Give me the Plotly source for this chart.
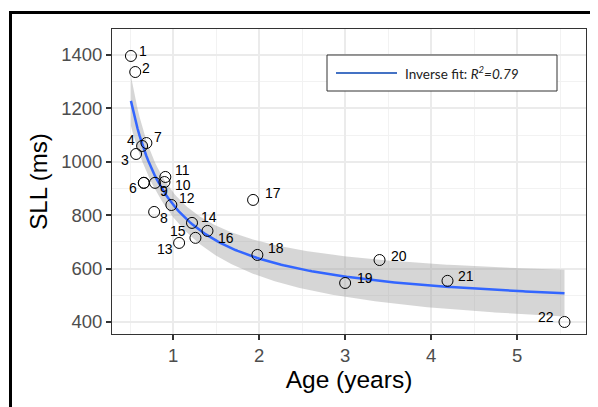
import numpy as np
import plotly.graph_objects as go

# ---- data ----
ids = ["1", "2", "3", "4", "", "6", "7", "8", "9", "10", "11",
       "12", "13", "14", "15", "16", "17", "18", "19", "20", "21", "22"]
age = [0.51, 0.56, 0.57, 0.64, 0.66, 0.66, 0.69, 0.78, 0.79, 0.90, 0.91,
       0.98, 1.07, 1.22, 1.26, 1.40, 1.93, 1.98, 3.00, 3.40, 4.19, 5.55]
sll = [1396, 1336, 1029, 1059, 921, 921, 1070, 812, 921, 924, 943,
       838, 696, 771, 715, 741, 857, 651, 546, 632, 554, 400]
# label placement (pixel offsets from each point): side, dx, dy(up)
label_side = ["r", "r", "l", "l", "r", "l", "r", "r", "r", "r", "r",
              "r", "l", "r", "l", "r", "r", "r", "r", "r", "r", "l"]
label_dx = [6, 5, -5, -5, 0, -5, 6, 4, 3, 9, 8, 6, -4, 7, -7, 9, 10, 9, 10, 9, 8, -8]
label_dy = [5, 4, -6, 6, 0, -5, 6, -6, -8, -3, 7, 7, -6, 6, 7, -7, 7, 7, 5, 4, 5, 5]
x_ticks = [1, 2, 3, 4, 5]
y_ticks = [400, 600, 800, 1000, 1200, 1400]
legend_text = "Inverse fit: <i>R<sup>2</sup>=0.79</i>"

x = np.array(age, dtype=float)
y = np.array(sll, dtype=float)

# ---- inverse fit  y = a + b/x, with 95% confidence band ----
X = np.column_stack([np.ones_like(x), 1.0 / x])
beta, *_ = np.linalg.lstsq(X, y, rcond=None)
resid = y - X @ beta
n, p = X.shape
s2 = resid @ resid / (n - p)
XtX_inv = np.linalg.inv(X.T @ X)
xs = np.linspace(x.min(), x.max(), 200)
Xs = np.column_stack([np.ones_like(xs), 1.0 / xs])
ys = Xs @ beta
se = np.sqrt(s2 * np.einsum("ij,jk,ik->i", Xs, XtX_inv, Xs))
t = 2.086
lo, hi = ys - t * se, ys + t * se

fig = go.Figure()
fig.add_trace(go.Scatter(x=np.concatenate([xs, xs[::-1]]), y=np.concatenate([hi, lo[::-1]]),
                         fill="toself", fillcolor="rgba(153,153,153,0.4)",
                         line=dict(width=0), hoverinfo="skip", showlegend=False))
fig.add_trace(go.Scatter(x=xs, y=ys, mode="lines", line=dict(color="#3366FF", width=2.5),
                         showlegend=False))
fig.add_trace(go.Scatter(x=age, y=sll, mode="markers",
                         marker=dict(symbol="circle-open", size=11, color="black",
                                     line=dict(width=1, color="black")),
                         showlegend=False))

annotations = []
for xi, yi, txt, side, dx, dy in zip(age, sll, ids, label_side, label_dx, label_dy):
    if not txt:
        continue
    annotations.append(dict(x=xi, y=yi, xref="x", yref="y", text=txt, showarrow=False,
                            xanchor="left" if side == "r" else "right", yanchor="middle",
                            xshift=dx, yshift=dy,
                            font=dict(family="Liberation Sans, Arial", size=14, color="black")))

axis_common = dict(
    showline=True, linecolor="#333333", linewidth=1, mirror=True,
    ticks="outside", ticklen=5, tickcolor="#333333", tickwidth=1.5,
    showgrid=True, gridcolor="#EBEBEB", gridwidth=1.5, zeroline=False, automargin=False,
    tickfont=dict(family="Liberation Sans, Arial", size=18.5, color="#4D4D4D"),
)
fig.update_xaxes(range=[0.29, 5.80], tickvals=x_ticks,
                 minor=dict(dtick=0.5, tick0=0.5, showgrid=True, gridcolor="#F2F2F2", gridwidth=1, ticks=""),
                 title=dict(text="Age (years)", font=dict(family="Liberation Sans, Arial", size=24.5, color="black"),
                            standoff=5),
                 **axis_common)
fig.update_yaxes(range=[355, 1497], tickvals=y_ticks,
                 minor=dict(dtick=100, tick0=300, showgrid=True, gridcolor="#F2F2F2", gridwidth=1, ticks=""),
                 title=dict(text="SLL (ms)", font=dict(family="Liberation Sans, Arial", size=24, color="black"),
                            standoff=6),
                 **axis_common)

# the page body adds an 8px offset; positions below are in reference-page pixels
OFF = 8
W, H = 598, 407
L, T = 112 - OFF, 29 - OFF
R, B = W - (586 - OFF), H - (334 - OFF)
pw, ph = W - L - R, H - T - B
def px(xp): return (xp - OFF - L) / pw
def py(yp): return (H - B - (yp - OFF)) / ph

shapes = [
    # outer frame (top & left visible)
    dict(type="line", xref="paper", yref="paper", x0=px(10.5), x1=px(10.5), y0=py(430), y1=py(12.5),
         line=dict(color="black", width=3)),
    dict(type="line", xref="paper", yref="paper", x0=px(9), x1=px(630), y0=py(12.5), y1=py(12.5),
         line=dict(color="black", width=3)),
    # legend box
    dict(type="rect", xref="paper", yref="paper", x0=px(327), x1=px(557), y0=py(91), y1=py(55),
         fillcolor="white", line=dict(color="#333333", width=1)),
    dict(type="line", xref="paper", yref="paper", x0=px(336), x1=px(397), y0=py(73), y1=py(73),
         line=dict(color="#4472C4", width=2)),
]
annotations.append(dict(xref="paper", yref="paper", x=px(403), y=py(73), xanchor="left", yanchor="middle",
                        text=legend_text, showarrow=False,
                        font=dict(family="Lato, Open Sans", size=13.5, color="#222222")))
fig.update_layout(
    width=W, height=H, margin=dict(l=L, r=R, t=T, b=B),
    paper_bgcolor="white", plot_bgcolor="white",
    shapes=shapes, annotations=annotations,
)
fig.write_html("out.html")
